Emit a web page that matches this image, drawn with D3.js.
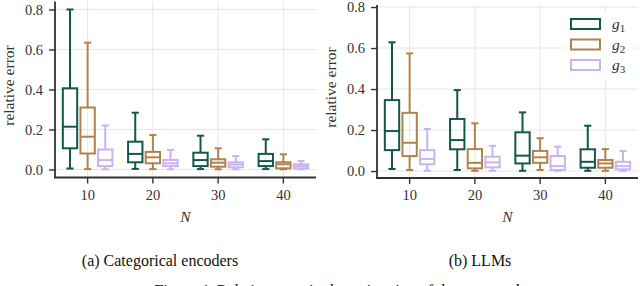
<!DOCTYPE html>
<html lang="en">
<head>
<meta charset="UTF-8">
<title>Relative error boxplots</title>
<script src="https://d3js.org/d3.v7.min.js"></script>
<style>
  body { margin: 0; background: #fff; }
  svg text { font-family: "Liberation Serif", "Times New Roman", "DejaVu Serif", serif !important; }
</style>
</head>
<body>
<div id="chart"></div>
<script>
// x categories
const Ns = [10, 20, 30, 40];
const groups = ["g1", "g2", "g3"];
const colors = ["#14574a", "#b0834c", "#c9b3f2"];
const yTicks = [0.0, 0.2, 0.4, 0.6, 0.8];

// [whisker low, q1, median, q3, whisker high] per N
const encG1 = [[0.005, 0.106, 0.214, 0.406, 0.800], [0.003, 0.036, 0.078, 0.139, 0.284], [0.002, 0.017, 0.047, 0.084, 0.169], [0.002, 0.017, 0.042, 0.078, 0.151]];
const encG2 = [[0.002, 0.080, 0.164, 0.310, 0.634], [0.002, 0.031, 0.061, 0.088, 0.172], [0.001, 0.014, 0.034, 0.051, 0.106], [0.001, 0.006, 0.026, 0.036, 0.076]];
const encG3 = [[0.001, 0.017, 0.047, 0.100, 0.220], [0.001, 0.017, 0.031, 0.048, 0.098], [0.001, 0.011, 0.025, 0.036, 0.067], [0.001, 0.006, 0.017, 0.026, 0.042]];

const llmG1 = [[0.010, 0.102, 0.195, 0.346, 0.628], [0.005, 0.106, 0.151, 0.254, 0.395], [0.001, 0.037, 0.075, 0.189, 0.286], [0.001, 0.016, 0.045, 0.106, 0.221]];
const llmG2 = [[0.005, 0.073, 0.138, 0.284, 0.574], [0.001, 0.013, 0.040, 0.107, 0.233], [0.005, 0.040, 0.067, 0.098, 0.160], [0.001, 0.016, 0.037, 0.054, 0.107]];
const llmG3 = [[0.001, 0.033, 0.059, 0.102, 0.205], [0.001, 0.018, 0.042, 0.070, 0.123], [0.001, 0.005, 0.024, 0.073, 0.119], [0.001, 0.008, 0.024, 0.045, 0.098]];

const panels = [
  { data: [encG1, encG2, encG3], caption: "(a) Categorical encoders",
    x0: 55, x1: 316, yTop: 1.5, yBot: 177.5, yDom: [-0.04, 0.84], capX: 160, legend: false },
  { data: [llmG1, llmG2, llmG3], caption: "(b) LLMs",
    x0: 377, x1: 638, yTop: 5, yBot: 178, yDom: [-0.034, 0.81], capX: 480, legend: true }
];

const svg = d3.select("#chart").append("svg")
  .attr("width", 640).attr("height", 286)
  .attr("font-family", "Liberation Serif, serif");

panels.forEach(p => {
  const x = d3.scaleBand().domain(Ns).range([p.x0, p.x1]);
  const y = d3.scaleLinear().domain(p.yDom).range([p.yBot, p.yTop]);
  const g = svg.append("g");
  const bw = x.bandwidth();
  const off = bw * 0.27, boxW = bw * 0.22;

  // grid
  g.selectAll(".hg").data(yTicks).enter().append("line")
    .attr("x1", p.x0).attr("x2", p.x1)
    .attr("y1", d => y(d)).attr("y2", d => y(d))
    .attr("stroke", "#e6e6e6").attr("stroke-width", 1);
  g.selectAll(".vg").data(Ns).enter().append("line")
    .attr("x1", d => x(d) + bw / 2).attr("x2", d => x(d) + bw / 2)
    .attr("y1", p.yTop).attr("y2", p.yBot)
    .attr("stroke", "#e6e6e6").attr("stroke-width", 1);

  // boxes
  p.data.forEach((series, gi) => {
    const col = colors[gi];
    series.forEach((s, i) => {
      const cx = x(Ns[i]) + bw / 2 + (gi - 1) * off;
      const [lo, q1, med, q3, hi] = s;
      const bg = g.append("g").attr("stroke", col).attr("stroke-width", 2).attr("fill", "none");
      bg.append("line").attr("x1", cx).attr("x2", cx).attr("y1", y(q3)).attr("y2", y(hi));
      bg.append("line").attr("x1", cx).attr("x2", cx).attr("y1", y(q1)).attr("y2", y(lo));
      bg.append("line").attr("x1", cx - boxW / 4).attr("x2", cx + boxW / 4).attr("y1", y(hi)).attr("y2", y(hi));
      bg.append("line").attr("x1", cx - boxW / 4).attr("x2", cx + boxW / 4).attr("y1", y(lo)).attr("y2", y(lo));
      bg.append("rect").attr("x", cx - boxW / 2).attr("width", boxW)
        .attr("y", y(q3)).attr("height", y(q1) - y(q3));
      bg.append("line").attr("x1", cx - boxW / 2).attr("x2", cx + boxW / 2).attr("y1", y(med)).attr("y2", y(med));
    });
  });

  // axes
  const xAxis = g.append("g").attr("transform", `translate(0,${p.yBot})`)
    .call(d3.axisBottom(x).tickSizeOuter(0).tickSize(6).tickPadding(6));
  const yAxis = g.append("g").attr("transform", `translate(${p.x0},0)`)
    .call(d3.axisLeft(y).tickValues(yTicks).tickFormat(d3.format(".1f")).tickSizeOuter(0).tickSize(6).tickPadding(6));
  [xAxis, yAxis].forEach(a => {
    a.attr("font-family", null).attr("font-size", null);
    a.select(".domain").attr("stroke", "#333").attr("stroke-width", 1.8);
    a.selectAll(".tick line").attr("stroke", "#333").attr("stroke-width", 1.4);
    a.selectAll("text").attr("fill", "#333").style("font-size", "14.5px");
  });
  yAxis.select(".domain").attr("d", `M0,${p.yTop}V${p.yBot}`);
  xAxis.select(".domain").attr("d", `M${p.x0 - 1},0H${p.x1}`);

  // labels
  g.append("text").attr("transform", `translate(${p.x0 - 46},${(p.yTop + p.yBot) / 2 - 4}) rotate(-90)`)
    .attr("text-anchor", "middle").attr("dy", "0.35em")
    .style("font-size", "15.5px").attr("fill", "#333").text("relative error");
  g.append("text").attr("x", (p.x0 + p.x1) / 2).attr("y", 222)
    .attr("text-anchor", "middle").style("font-size", "15.5px").style("font-style", "italic")
    .attr("fill", "#333").text("N");
  g.append("text").attr("x", p.capX).attr("y", 266)
    .attr("text-anchor", "middle").style("font-size", "16px").attr("fill", "#111").text(p.caption);

  if (p.legend) {
    const lg = g.append("g");
    lg.append("rect").attr("x", 564).attr("y", 12).attr("width", 70).attr("height", 66)
      .attr("fill", "#fff").attr("fill-opacity", 0.8);
    groups.forEach((name, gi) => {
      const ly = 19 + gi * 20.5;
      lg.append("rect").attr("x", 571).attr("y", ly).attr("width", 29).attr("height", 10)
        .attr("fill", "none").attr("stroke", colors[gi]).attr("stroke-width", 2);
      const t = lg.append("text").attr("x", 612).attr("y", ly + 10)
        .style("font-size", "15.5px").attr("fill", "#333");
      t.append("tspan").style("font-style", "italic").text("g");
      t.append("tspan").attr("dy", 3).style("font-size", "11px").text(String(gi + 1));
    });
  }
});

// main figure caption, cut off at the bottom edge as in the source figure
svg.append("text").attr("x", 350).attr("y", 296)
  .attr("text-anchor", "middle").style("font-size", "16px").attr("fill", "#111")
  .text("Figure 4: Relative error in the estimation of the target values.");
</script>
</body>
</html>
